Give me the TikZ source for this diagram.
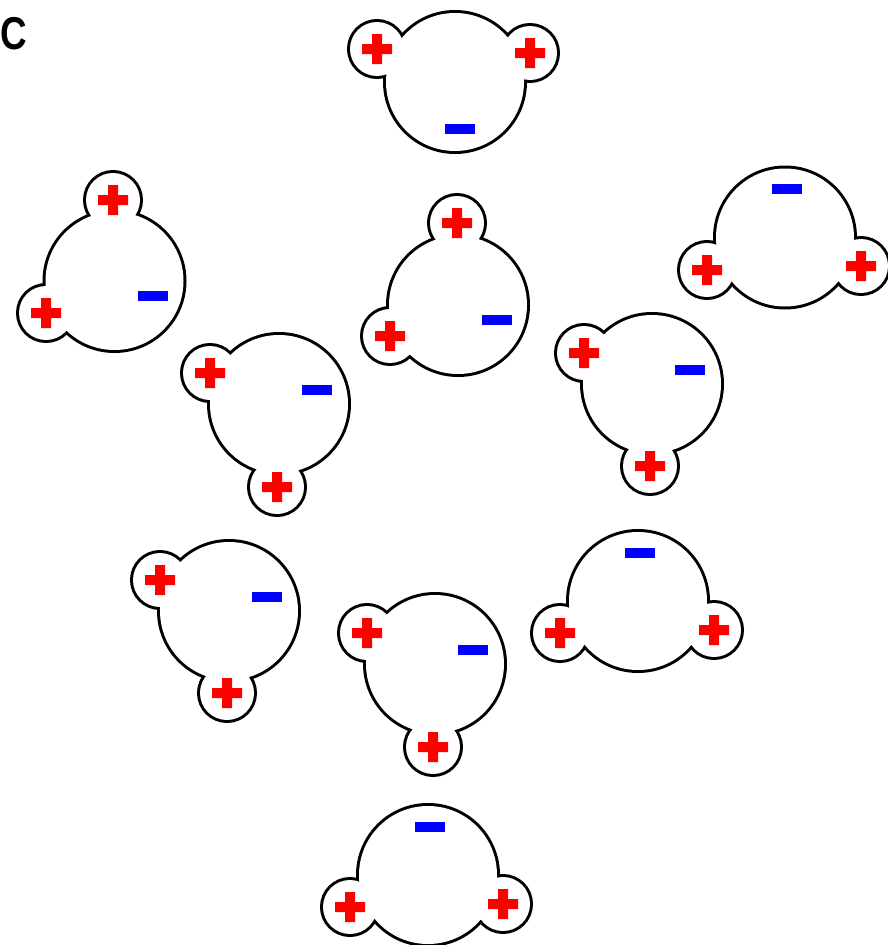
\documentclass[tikz,border=0pt]{standalone}
\usepackage{fontspec}
\setsansfont{Liberation Sans}
\usepackage{tikz}
\definecolor{hred}{rgb}{1,0,0}
\definecolor{oblue}{rgb}{0,0,1}
% one water molecule: name, oxygen, two hydrogens, place of the minus sign
\newcommand{\watermol}[5]{%
  \coordinate (#1o) at (#2);
  \coordinate (#1a) at (#3);
  \coordinate (#1b) at (#4);
  \coordinate (#1q) at (#5);
  \draw[shell] (#1o) circle (69pt) (#1a) circle (27pt) (#1b) circle (27pt);
  \fill[white] (#1o) circle (69pt) (#1a) circle (27pt) (#1b) circle (27pt);
  \pic at (#1a) {hplus};
  \pic at (#1b) {hplus};
  \pic at (#1q) {ominus};
}

\begin{document}
\begin{tikzpicture}[x=1pt,y=-1pt]
  \tikzset{shell/.style={draw=black,line width=6pt}}
  \tikzset{hplus/.pic={\fill[hred] (-15,-5) rectangle (15,5) (-5,-15) rectangle (5,15);}}
  \tikzset{ominus/.pic={\fill[oblue] (-15,-5) rectangle (15,5);}}
  \useasboundingbox (0,0) rectangle (888,945);
  \clip (0,0) rectangle (888,945);
  \node[font=\sffamily\bfseries\fontsize{46}{46}\selectfont,inner sep=0pt] (panel) at (13.5,33.5) {\scalebox{0.8}[1]{C}};
  \watermol{m1}{455,82}{377,49}{530,53}{460,129}
  \watermol{m2}{114.5,281}{113,200}{46,313}{153,296}
  \watermol{m3}{458,305}{457,223}{390,336}{497,320}
  \watermol{m4}{785,237.5}{707,270}{861,266}{787,189}
  \watermol{m5}{279,404}{210,373}{277,487}{317,390}
  \watermol{m6}{652,384}{584,353}{650,466}{690,370}
  \watermol{m7}{229,611}{160,580}{227,693}{267,597}
  \watermol{m8}{435,664}{367,633}{433,747}{473,650}
  \watermol{m9}{638,601}{560,633}{714,630}{640,553}
  \watermol{m10}{428,875}{350,907}{503,904}{430,827}
\end{tikzpicture}
\end{document}
